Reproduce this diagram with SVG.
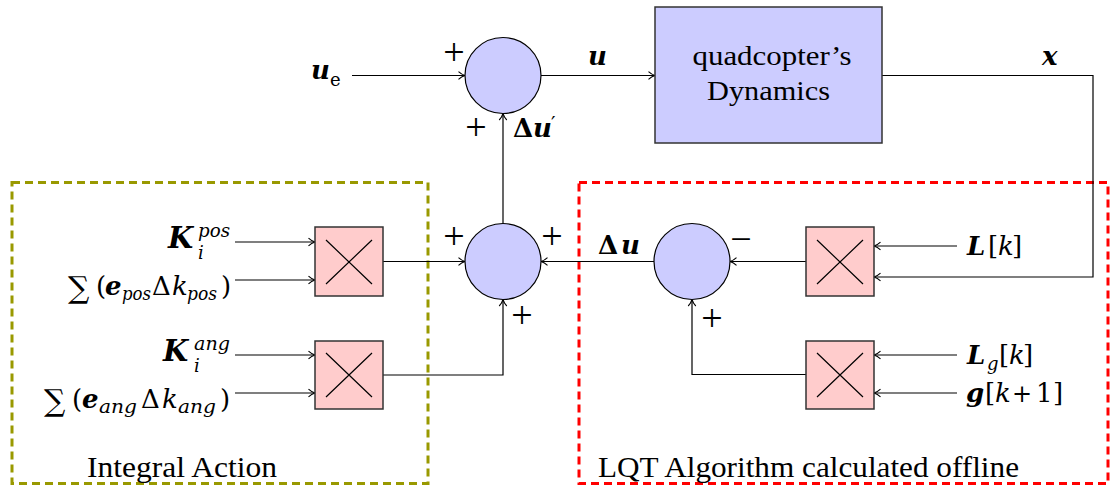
<svg xmlns="http://www.w3.org/2000/svg" width="1112" height="486" viewBox="0 0 1112 486">
<style>
.ln{fill:none;stroke:#000;stroke-width:1.2}
.sum{fill:#ccccff;stroke:#000;stroke-width:1.2}
.mul{fill:#ffcccc;stroke:#333;stroke-width:1.5}
.x{stroke:#000;stroke-width:1.2}
.t{font-family:"Liberation Serif","Times New Roman",serif;font-size:28px;fill:#000}
.m{font-family:"DejaVu Serif",serif;font-size:26px;fill:#000}
.bi{font-weight:bold;font-style:italic}
.it{font-style:italic}
.b{font-weight:bold}
.s{font-size:18px}
.sg{font-size:30px}
.pm{font-family:"Liberation Serif",serif;font-size:38px;text-anchor:middle;fill:#000}
</style>
<defs>
<marker id="arr" markerUnits="userSpaceOnUse" markerWidth="12" markerHeight="12" viewBox="-9 -6 12 12" refX="0" refY="0" orient="auto">
<path d="M-6.5,-3.8 C-4.2,-1.6 -1.8,-0.5 0,0 C-1.8,0.5 -4.2,1.6 -6.5,3.8" fill="none" stroke="#000" stroke-width="1.1"/>
</marker>
</defs>

<g id="integral-region">
<rect x="12" y="182.5" width="416" height="301" fill="none" stroke="#999900" stroke-width="3" stroke-dasharray="8 5"/>
<text class="t" x="87" y="477" textLength="190" lengthAdjust="spacingAndGlyphs" style="font-size:29px">Integral Action</text>
</g>

<g id="lqt-region">
<rect x="579" y="182.5" width="529" height="301" fill="none" stroke="#ff0000" stroke-width="3" stroke-dasharray="8 5"/>
<text class="t" x="598" y="477" textLength="421" lengthAdjust="spacingAndGlyphs" style="font-size:29px">LQT Algorithm calculated offline</text>
</g>

<g id="connectors">
<path class="ln" d="M352,75.5 H465" marker-end="url(#arr)"/>
<path class="ln" d="M541,75.5 H655" marker-end="url(#arr)"/>
<path class="ln" d="M882,75.5 H1093 V277 H874" marker-end="url(#arr)"/>
<path class="ln" d="M503,223 V113.5" marker-end="url(#arr)"/>
<path class="ln" d="M383,261.5 H465" marker-end="url(#arr)"/>
<path class="ln" d="M383,375 H503 V299.5" marker-end="url(#arr)"/>
<path class="ln" d="M654,261.5 H541" marker-end="url(#arr)"/>
<path class="ln" d="M806,261.5 H730" marker-end="url(#arr)"/>
<path class="ln" d="M806,374.5 H692 V299.5" marker-end="url(#arr)"/>
<path class="ln" d="M235,242 H315" marker-end="url(#arr)"/>
<path class="ln" d="M235,280 H315" marker-end="url(#arr)"/>
<path class="ln" d="M235,355 H315" marker-end="url(#arr)"/>
<path class="ln" d="M235,393 H315" marker-end="url(#arr)"/>
<path class="ln" d="M957,246 H874" marker-end="url(#arr)"/>
<path class="ln" d="M957,355 H874" marker-end="url(#arr)"/>
<path class="ln" d="M957,393 H874" marker-end="url(#arr)"/>
</g>

<g id="sum-top">
<circle class="sum" cx="503" cy="75.5" r="38"/>
<text class="pm" x="454" y="65">+</text>
<text class="pm" x="476" y="140">+</text>
</g>

<g id="dynamics">
<rect x="655" y="7" width="227" height="136" fill="#ccccff" stroke="#333" stroke-width="1.5"/>
<text class="t" x="772" y="65" text-anchor="middle" textLength="159" lengthAdjust="spacingAndGlyphs">quadcopter’s</text>
<text class="t" x="768.5" y="100" text-anchor="middle" textLength="123" lengthAdjust="spacingAndGlyphs">Dynamics</text>
</g>

<g id="sum-mid">
<circle class="sum" cx="503" cy="261.5" r="38"/>
<text class="pm" x="454" y="249">+</text>
<text class="pm" x="552" y="249">+</text>
<text class="pm" x="522" y="328">+</text>
</g>

<g id="sum-right">
<circle class="sum" cx="692" cy="261.5" r="38"/>
<text class="pm" x="741" y="252">−</text>
<text class="pm" x="712" y="331">+</text>
</g>

<g id="mul-pos">
<rect class="mul" x="315" y="227" width="68" height="69"/>
<path class="x" d="M326,240 L372,284 M372,240 L326,284"/>
</g>
<g id="mul-ang">
<rect class="mul" x="315" y="341" width="68" height="68"/>
<path class="x" d="M326,353 L372,397 M372,353 L326,397"/>
</g>
<g id="mul-L">
<rect class="mul" x="806" y="227" width="68" height="69"/>
<path class="x" d="M817,240 L863,284 M863,240 L817,284"/>
</g>
<g id="mul-Lg">
<rect class="mul" x="806" y="341" width="68" height="68"/>
<path class="x" d="M817,353 L863,397 M863,353 L817,397"/>
</g>

<g id="labels">
<text class="m"><tspan class="bi" x="311" y="79">u</tspan><tspan class="s" x="330" y="86">e</tspan></text>
<text class="m bi" x="588" y="65">u</text>
<text class="m bi" x="1042" y="65">x</text>
<text class="m"><tspan class="b" x="513" y="137">Δ</tspan><tspan class="bi" x="533" y="137">u</tspan><tspan x="551" y="131" style="font-size:20px">′</tspan></text>
<text class="m"><tspan class="b" x="598" y="254">Δ</tspan><tspan class="bi" x="621" y="254">u</tspan></text>

<text class="m"><tspan class="bi" x="168" y="248" style="font-size:29px">K</tspan><tspan class="it s" x="198" y="237" textLength="32" lengthAdjust="spacingAndGlyphs">pos</tspan><tspan class="it s" x="198" y="259">i</tspan></text>
<text class="m"><tspan class="sg" x="68" y="298">∑</tspan><tspan x="96" y="295">(</tspan><tspan class="bi" x="105" y="295">e</tspan><tspan class="it s" x="122" y="300" textLength="29" lengthAdjust="spacingAndGlyphs">pos</tspan><tspan x="152" y="295">Δ</tspan><tspan class="it" x="172" y="295">k</tspan><tspan class="it s" x="187" y="300" textLength="30" lengthAdjust="spacingAndGlyphs">pos</tspan><tspan x="221" y="295">)</tspan></text>

<text class="m"><tspan class="bi" x="163" y="361" style="font-size:29px">K</tspan><tspan class="it s" x="194" y="350" style="font-size:19px" textLength="36" lengthAdjust="spacingAndGlyphs">ang</tspan><tspan class="it s" x="194" y="372">i</tspan></text>
<text class="m"><tspan class="sg" x="44" y="411">∑</tspan><tspan x="72" y="408">(</tspan><tspan class="bi" x="82" y="408">e</tspan><tspan class="it s" x="99" y="413" style="font-size:19px" textLength="38" lengthAdjust="spacingAndGlyphs">ang</tspan><tspan x="141" y="408">Δ</tspan><tspan class="it" x="162" y="408">k</tspan><tspan class="it s" x="178" y="413" style="font-size:19px" textLength="38" lengthAdjust="spacingAndGlyphs">ang</tspan><tspan x="220" y="408">)</tspan></text>

<text class="m"><tspan class="bi" x="967" y="255">L</tspan><tspan x="988" y="255">[</tspan><tspan class="it" x="998" y="255">k</tspan><tspan x="1012" y="255">]</tspan></text>
<text class="m"><tspan class="bi" x="967" y="364">L</tspan><tspan class="it s" x="987" y="370">g</tspan><tspan x="999" y="364">[</tspan><tspan class="it" x="1009" y="364">k</tspan><tspan x="1023" y="364">]</tspan></text>
<text class="m"><tspan class="bi" x="966" y="402">g</tspan><tspan x="985" y="402">[</tspan><tspan class="it" x="995" y="402">k</tspan><tspan x="1012" y="402" style="font-size:24px">+</tspan><tspan x="1036" y="402">1</tspan><tspan x="1053" y="402">]</tspan></text>
</g>
</svg>
